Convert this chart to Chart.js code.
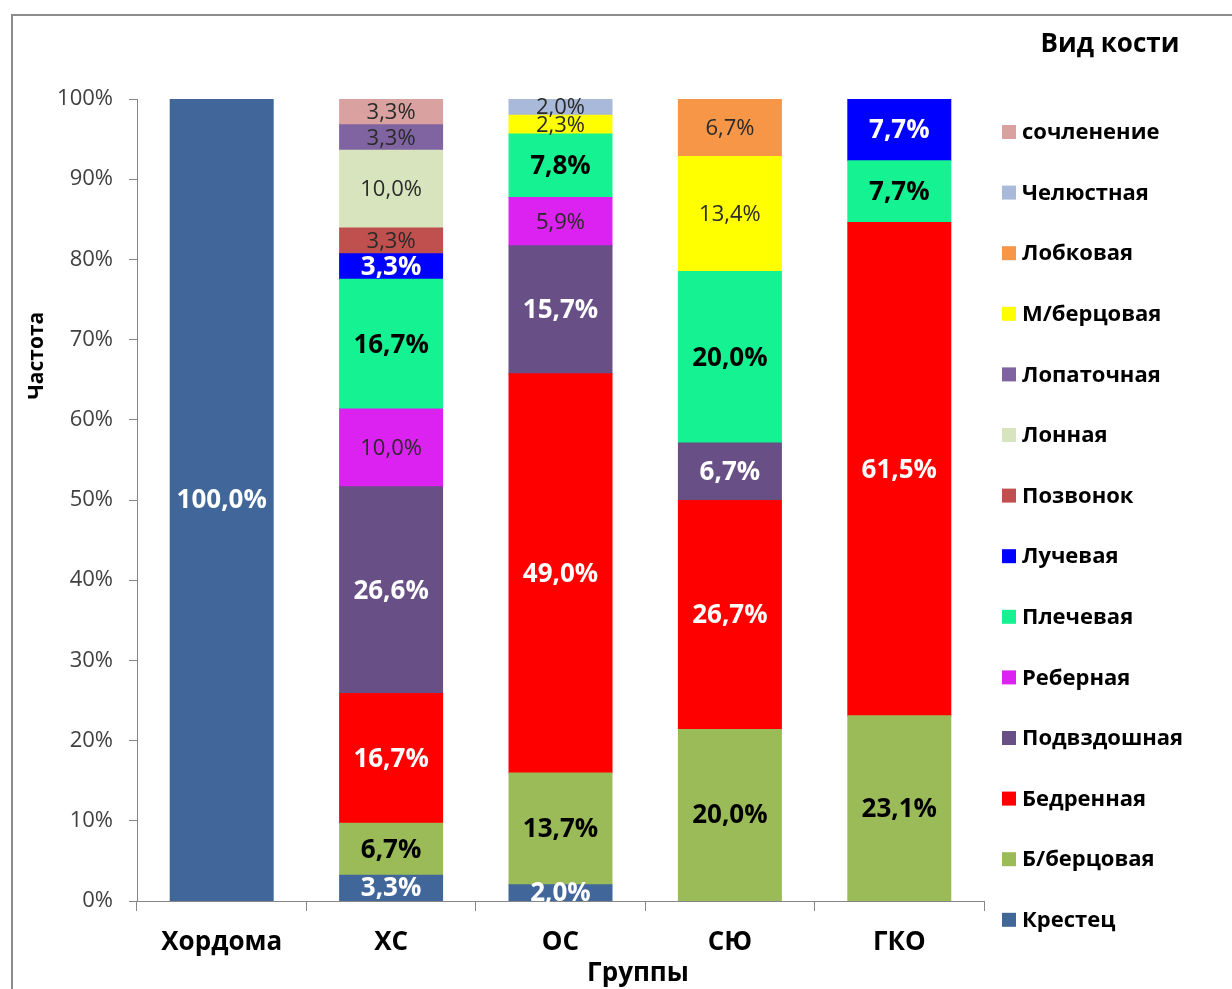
<!DOCTYPE html>
<html>
<head>
<meta charset="utf-8">
<title>Вид кости по группам</title>
<script src="https://cdn.jsdelivr.net/npm/chart.js@4.4.1/dist/chart.umd.min.js"></script>
<style>
  html, body { margin: 0; padding: 0; background: #fff; overflow: hidden; }
  #wrap { position: relative; width: 1232px; height: 989px; }
  #chart { position: absolute; left: 0; top: 0; }
  #frame { position: absolute; left: 11px; top: 14px; width: 1260px; height: 1020px;
           border-left: 2px solid #8c8c8c; border-top: 2px solid #8c8c8c; pointer-events: none; }
</style>
</head>
<body>
<div id="wrap">
  <canvas id="chart" width="1232" height="989"></canvas>
  <div id="frame"></div>
</div>
<script>
// Groups along the x axis
const groups = ['Хордома', 'ХС', 'ОС', 'СЮ', 'ГКО'];

// Bone types, bottom of the stack first
const boneTypes = ['Крестец', 'Б/берцовая', 'Бедренная', 'Подвздошная', 'Реберная', 'Плечевая',
  'Лучевая', 'Позвонок', 'Лонная', 'Лопаточная', 'М/берцовая', 'Лобковая', 'Челюстная', 'сочленение'];

// Percent per group for each bone type (0 = absent)
const krestets      = [100, 3.3,  2.0,  0,    0];
const bBertsovaya   = [0,   6.7,  13.7, 20.0, 23.1];
const bedrennaya    = [0,   16.7, 49.0, 26.7, 61.5];
const podvzdoshnaya = [0,   26.6, 15.7, 6.7,  0];
const rebernaya     = [0,   10.0, 5.9,  0,    0];
const plechevaya    = [0,   16.7, 7.8,  20.0, 7.7];
const luchevaya     = [0,   3.3,  0,    0,    7.7];
const pozvonok      = [0,   3.3,  0,    0,    0];
const lonnaya       = [0,   10.0, 0,    0,    0];
const lopatochnaya  = [0,   3.3,  0,    0,    0];
const mBertsovaya   = [0,   0,    2.3,  13.4, 0];
const lobkovaya     = [0,   0,    0,    6.7,  0];
const chelyustnaya  = [0,   0,    2.0,  0,    0];
const sochlenenie   = [0,   3.3,  0,    0,    0];

// Value axis ticks
const yTickValues = [0, 10, 20, 30, 40, 50, 60, 70, 80, 90, 100];

const seriesValues = [krestets, bBertsovaya, bedrennaya, podvzdoshnaya, rebernaya, plechevaya,
  luchevaya, pozvonok, lonnaya, lopatochnaya, mBertsovaya, lobkovaya, chelyustnaya, sochlenenie];

const seriesColors = ['#41679A', '#9BBB59', '#FF0000', '#684F86', '#DB22F0', '#14F291',
  '#0000FF', '#C0504D', '#D7E4BD', '#8064A2', '#FFFF00', '#F79646', '#A8B9D9', '#D9A1A0'];

// Label look per series: 'w' bold white, 'b' bold black, 'n' regular dark
const labelStyles = ['w', 'b', 'w', 'w', 'n', 'b', 'w', 'n', 'n', 'n', 'n', 'n', 'n', 'n'];

const FONT = "'Open Sans', 'Noto Sans', 'DejaVu Sans', sans-serif";

// 100% stacking: each column is scaled by its own total; absent parts are left out
const columnTotals = groups.map((g, j) => seriesValues.reduce((s, arr) => s + arr[j], 0));
const shares = seriesValues.map(arr => arr.map((v, j) => v ? v / columnTotals[j] * 100 : null));

const fmtPct = v => v.toFixed(1).replace('.', ',') + '%';

const datasets = boneTypes.map((name, i) => ({
  label: name,
  data: shares[i],
  backgroundColor: seriesColors[i],
  borderWidth: 0,
  inflateAmount: 0.5,
  barPercentage: 0.608,
  categoryPercentage: 1.0
}));

// Value labels centred in each segment
const segmentLabels = {
  id: 'segmentLabels',
  afterDatasetsDraw(chart) {
    const ctx = chart.ctx;
    ctx.save();
    ctx.textAlign = 'center';
    ctx.textBaseline = 'middle';
    chart.data.datasets.forEach((ds, i) => {
      const meta = chart.getDatasetMeta(i);
      const style = labelStyles[i];
      meta.data.forEach((bar, j) => {
        const v = seriesValues[i][j];
        if (!v) return;
        const p = bar.getCenterPoint();
        if (style === 'n') {
          ctx.font = `400 22px ${FONT}`;
          ctx.fillStyle = '#2a2a2a';
        } else {
          ctx.font = `700 26px ${FONT}`;
          ctx.fillStyle = style === 'w' ? '#ffffff' : '#000000';
        }
        ctx.fillText(fmtPct(v), p.x, p.y + 1);
      });
    });
    ctx.restore();
  }
};

// Axis titles and the legend on the right
const sideTexts = {
  id: 'sideTexts',
  afterDraw(chart) {
    const ctx = chart.ctx;
    const area = chart.chartArea;
    ctx.save();

    // y axis title
    ctx.font = `700 21px ${FONT}`;
    ctx.fillStyle = '#000';
    ctx.textAlign = 'center';
    ctx.textBaseline = 'middle';
    ctx.translate(37, area.top + (area.bottom - area.top) * 0.32);
    ctx.rotate(-Math.PI / 2);
    ctx.fillText('Частота', 0, 0);
    ctx.setTransform(1, 0, 0, 1, 0, 0);

    // x axis title
    ctx.font = `700 26px ${FONT}`;
    ctx.fillText('Группы', 638, 974);

    // legend title
    ctx.fillText('Вид кости', 1110, 45);

    // legend items, top of the stack first
    const boxX = area.right + 18;
    const firstY = 132;
    const step = 60.6;
    ctx.font = `700 22px ${FONT}`;
    ctx.textAlign = 'left';
    const order = chart.data.datasets.map((d, i) => i).reverse();
    order.forEach((i, k) => {
      const y = firstY + k * step;
      ctx.fillStyle = chart.data.datasets[i].backgroundColor;
      ctx.fillRect(boxX, y - 7, 14, 14);
      ctx.fillStyle = '#000';
      ctx.fillText(chart.data.datasets[i].label, boxX + 20, y + 1);
    });
    ctx.restore();
  }
};

new Chart(document.getElementById('chart'), {
  type: 'bar',
  data: { labels: groups, datasets },
  plugins: [segmentLabels, sideTexts],
  options: {
    responsive: false,
    animation: false,
    events: [],
    layout: { padding: { top: 99, right: 248, bottom: 0, left: 0 } },
    plugins: {
      legend: { display: false },
      tooltip: { enabled: false },
      title: { display: false }
    },
    scales: {
      x: {
        stacked: true,
        offset: true,
        grid: { display: true, drawOnChartArea: false, drawTicks: true, tickLength: 10,
                color: '#868686', offset: true, lineWidth: 1 },
        border: { display: true, color: '#868686', width: 1 },
        ticks: { font: { family: FONT, size: 26, weight: '700' }, color: '#000', padding: 16,
                 maxRotation: 0, autoSkip: false },
        afterFit(scale) { scale.height = 88; }
      },
      y: {
        stacked: true,
        min: 0,
        max: 100,
        afterBuildTicks(scale) { scale.ticks = yTickValues.map(v => ({ value: v })); },
        ticks: { font: { family: FONT, size: 22 }, color: '#404040', padding: 16,
                 callback: v => v + '%' },
        grid: { display: true, drawOnChartArea: false, drawTicks: true, tickLength: 8,
                color: '#868686', lineWidth: 1 },
        border: { display: true, color: '#868686', width: 1 },
        afterFit(scale) { scale.width = 137; }
      }
    }
  }
});
</script>
</body>
</html>
